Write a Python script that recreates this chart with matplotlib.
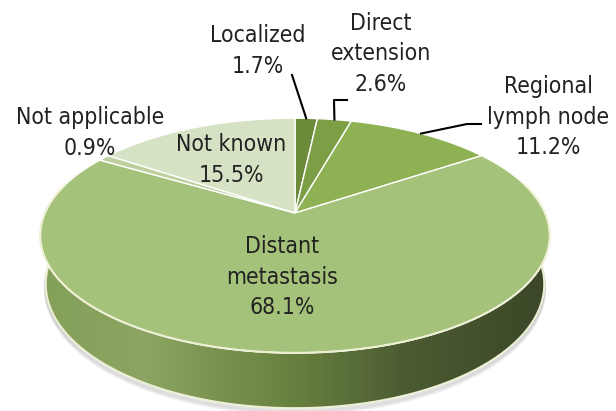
import numpy as np
import matplotlib
matplotlib.use("Agg")
import matplotlib.pyplot as plt
from matplotlib.colors import LinearSegmentedColormap
from matplotlib.patches import Polygon

# slices, clockwise from 12 o'clock (Excel order)
categories = ["Localized", "Direct\nextension", "Regional\nlymph node",
              "Distant\nmetastasis", "Not applicable", "Not known"]
shares = [1.7, 2.6, 11.2, 68.1, 0.9, 15.5]
top_colors = ["#6b8b3a", "#7c9f45", "#8db153", "#a5c27a", "#bccf9c", "#d6e2c4"]

# label centres (pixels) and leader-line elbows
label_pos = [(258, 51), (381, 54), (548, 117), (282, 277), (90, 133), (231, 160)]
leaders = {0: [(292, 75)], 1: [(334, 100), (347, 100)], 2: [(467, 124), (481, 124)]}

# projection of the tilted disc (simple perspective)
CX, CY, A = 295, 213, 250
SIN_E, COS_E = 0.452, 0.892
K = 0.215
H = 0.219


def proj(theta, r=1.0, h=0.0):
    u = r * np.sin(theta)
    v = r * np.cos(theta)
    w = 1 + K * (v * COS_E - h * SIN_E)
    return CX + A * u / w, CY - A * (v * SIN_E + h * COS_E) / w


fig = plt.figure(figsize=(6.16, 4.11), dpi=100)
ax = fig.add_axes([0, 0, 1, 1])
ax.set_xlim(0, 616)
ax.set_ylim(411, 0)
ax.axis("off")

# side wall (front half)
t = np.radians(np.linspace(60, 300, 300))
xt, yt = proj(t)
xb, yb = proj(t[::-1], h=-H)
side_x = np.concatenate([xt, xb])
side_y = np.concatenate([yt, yb])

# soft shadow under the bottom rim
for i in range(6):
    ax.plot(xb, yb + 1 + i * 0.9, color="#808080", alpha=0.07, lw=2.5,
            solid_capstyle="round", zorder=1)

side = Polygon(np.column_stack([side_x, side_y]), closed=True,
               facecolor="none", edgecolor="#eef0d6", lw=1.4, zorder=3)
ax.add_patch(side)
grad = LinearSegmentedColormap.from_list(
    "side", [(0.0, "#84a058"), (0.2, "#8ca562"), (0.5, "#68803f"),
             (0.72, "#4b5b32"), (1.0, "#3b4727")])
img = ax.imshow(np.linspace(0, 1, 256)[None, :], cmap=grad, aspect="auto",
                extent=[side_x.min(), side_x.max(), 411, 150], zorder=2)
img.set_clip_path(side)

# top faces
bounds = np.concatenate([[0], np.cumsum(shares)]) / 100 * 2 * np.pi
for i, col in enumerate(top_colors):
    th = np.linspace(bounds[i], bounds[i + 1], 200)
    x, y = proj(th)
    ax.fill(np.concatenate([[CX], x]), np.concatenate([[CY], y]),
            facecolor=col, edgecolor="white", lw=1.0, zorder=4)

# light rim on the front edge of the top face
tf = np.radians(np.linspace(75, 285, 200))
xf, yf = proj(tf)
ax.plot(xf, yf, color="#eef0d6", lw=1.4, zorder=5)

# labels
for i, (name, val) in enumerate(zip(categories, shares)):
    x, y = label_pos[i]
    ax.text(x, y, f"{name}\n{val}%", ha="center", va="center",
            fontsize=16.5, color="#222222", linespacing=1.4,
            family="DejaVu Sans", fontstretch="condensed", zorder=6)

for i, pts in leaders.items():
    mid = (bounds[i] + bounds[i + 1]) / 2
    rx, ry = proj(mid)
    xs = [rx] + [p[0] for p in pts]
    ys = [ry] + [p[1] for p in pts]
    ax.plot(xs, ys, color="black", lw=1.5, zorder=6)

fig.savefig("out.png", dpi=100)
